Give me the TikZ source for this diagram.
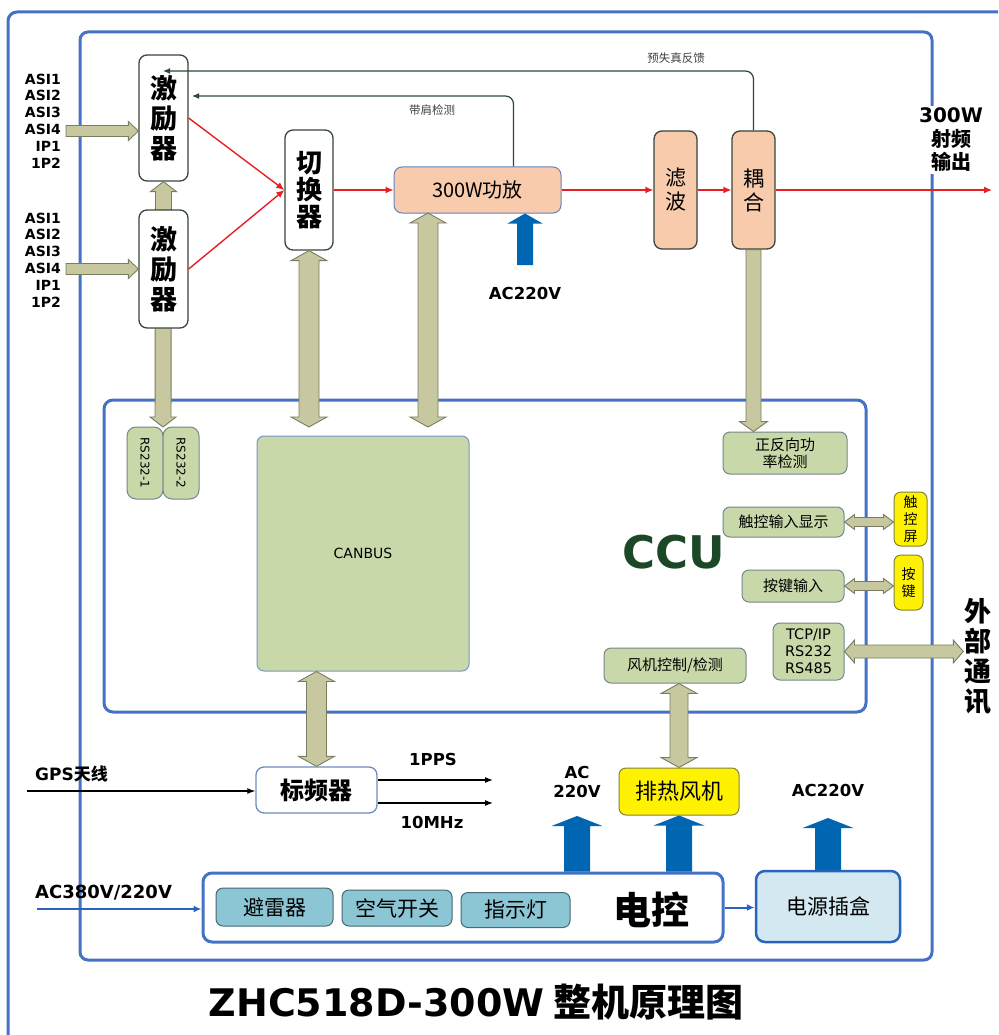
\documentclass[tikz,border=0pt]{standalone}
\usepackage{fontspec}
\setmainfont{Noto Sans CJK SC}
\newfontfamily\vfont{DejaVu Sans}
\usetikzlibrary{calc,arrows.meta}

\definecolor{frameblue}{RGB}{68,114,196}
\definecolor{acblue}{RGB}{0,102,178}
\definecolor{khaki}{RGB}{200,200,160}
\definecolor{khakiline}{RGB}{120,125,95}
\definecolor{boxline}{RGB}{55,70,55}
\definecolor{orangebox}{RGB}{248,203,173}
\definecolor{ampline}{RGB}{100,130,190}
\definecolor{greenbox}{RGB}{200,216,168}
\definecolor{greenline}{RGB}{115,135,140}
\definecolor{canline}{RGB}{120,150,200}
\definecolor{tealfill}{RGB}{140,198,212}
\definecolor{tealline}{RGB}{70,105,115}
\definecolor{plugfill}{RGB}{212,232,241}
\definecolor{plugline}{RGB}{40,100,190}
\definecolor{yellowline}{RGB}{130,130,60}
\definecolor{frqline}{RGB}{110,140,190}
\definecolor{fbgreen}{RGB}{40,75,55}
\definecolor{rfred}{RGB}{232,30,35}
\definecolor{ccugreen}{RGB}{28,72,40}

\newcommand{\fsz}[2]{\fontsize{#1}{#2}\selectfont}

% fat arrows between two points: [style]{from}{to}{half shaft}{half head}
\newcommand{\dblarrow}[5][busarrow]{%
  \path[#1] let \p1=(#2), \p2=(#3),
    \n1={atan2(\y2-\y1,\x2-\x1)}, \n2={veclen(\x2-\x1,\y2-\y1)} in
    [shift={(\p1)}, rotate=\n1]
    (0pt,0pt) -- (10pt,#5pt) -- (10pt,#4pt) -- (\n2-10pt,#4pt) -- (\n2-10pt,#5pt)
    -- (\n2+0pt,0pt) -- (\n2-10pt,-#5pt) -- (\n2-10pt,-#4pt) -- (10pt,-#4pt)
    -- (10pt,-#5pt) -- cycle;}
\newcommand{\onearrow}[5][busarrow]{%
  \path[#1] let \p1=(#2), \p2=(#3),
    \n1={atan2(\y2-\y1,\x2-\x1)}, \n2={veclen(\x2-\x1,\y2-\y1)} in
    [shift={(\p1)}, rotate=\n1]
    (0pt,#4pt) -- (\n2-10pt,#4pt) -- (\n2-10pt,#5pt) -- (\n2+0pt,0pt)
    -- (\n2-10pt,-#5pt) -- (\n2-10pt,-#4pt) -- (0pt,-#4pt) -- cycle;}

\tikzset{
  blueframe/.style={draw=frameblue, line width=3pt, rounded corners=9pt},
  unitbox/.style={draw=boxline, line width=1.3pt, fill=white, rounded corners=8pt, inner sep=0pt, align=center},
  rfbox/.style={unitbox, fill=orangebox},
  ccubox/.style={draw=greenline, line width=1pt, fill=greenbox, rounded corners=7pt, inner sep=0pt, align=center},
  yellowbox/.style={draw=yellowline, line width=1pt, fill=yellow, rounded corners=7pt, inner sep=0pt, align=center},
  tealbox/.style={draw=tealline, line width=1pt, fill=tealfill, rounded corners=7pt, inner sep=0pt, font=\fsz{21}{24}},
  rfline/.style={draw=rfred, line width=1.4pt, -{Latex[length=8pt,width=7pt]}},
  fbline/.style={draw=fbgreen, line width=1.2pt, rounded corners=8pt, -{Latex[length=7pt,width=6pt]}},
  sigline/.style={draw=black, line width=1.2pt, -{Latex[length=8pt,width=6pt]}},
  acline/.style={draw=plugline, line width=2pt, -{Latex[length=8pt,width=7pt]}},
  busarrow/.style={fill=khaki, draw=khakiline, line width=0.9pt},
  acarrow/.style={fill=acblue},
  boldlbl/.style={font=\vfont\bfseries\fsz{16.5}{19}, inner sep=0pt, align=center},
  smalllbl/.style={font=\fsz{11.5}{13}, text=darkgray, inner sep=1pt},
}

\begin{document}
\begin{tikzpicture}[x=1pt,y=-1pt]
  \useasboundingbox (0,0) rectangle (998,1035);
  \clip (0,0) rectangle (998,1035);
  % Frames
  \draw[blueframe] (8,1050) -- (8,12) -- (1010,12);
  \draw[blueframe, rounded corners=8pt] (80,32) rectangle (932,960);
  \node[blueframe, fill=white, minimum width=762pt, minimum height=312pt, inner sep=0pt] (ccu) at (485,556) {};

  % Exciters and switch
  \node[anchor=east, font=\vfont\bfseries\fsz{14}{16.8}, align=right, inner sep=0pt] (asia) at (61,121) {ASI1\\ASI2\\ASI3\\ASI4\\IP1\\1P2};
  \node[anchor=east, font=\vfont\bfseries\fsz{14}{16.8}, align=right, inner sep=0pt] (asib) at (61,260) {ASI1\\ASI2\\ASI3\\ASI4\\IP1\\1P2};
  \node[unitbox, minimum width=49pt, minimum height=126pt, font=\bfseries\fsz{27}{30}] (exc1) at (163.5,118) {激\\励\\器};
  \node[ccubox, rotate=-90, minimum width=72pt, minimum height=36pt, rounded corners=9pt, font=\vfont\fsz{12}{14}] (rs1) at (145,463) {RS232-1};
  \node[ccubox, rotate=-90, minimum width=72pt, minimum height=36pt, rounded corners=9pt, font=\vfont\fsz{12}{14}] (rs2) at (181,463) {RS232-2};
  \coordinate (rsjoin) at (163,427);
  \dblarrow{rsjoin}{exc1.south}{8}{13}
  \node[unitbox, minimum width=49pt, minimum height=118pt, font=\bfseries\fsz{27}{30}] (exc2) at (163.5,269) {激\\励\\器};
  \coordinate (ina) at (66,131);
  \coordinate (inb) at (66,269);
  \onearrow{ina}{ina -| exc1.west}{5.5}{9.5}
  \onearrow{inb}{inb -| exc2.west}{5.5}{9.5}
  \node[unitbox, minimum width=48pt, minimum height=120pt, font=\bfseries\fsz{26}{27}] (sw) at (309,190) {切\\换\\器};

  % RF chain
  \node[rfbox, draw=ampline, line width=1pt, minimum width=167pt, minimum height=46pt, font=\fsz{20}{24}] (amp) at (477.5,190) {300W功放};
  \node[rfbox, minimum width=43pt, minimum height=118pt, font=\fsz{21}{24}] (flt) at (675.5,190) {滤\\波};
  \node[rfbox, minimum width=43pt, minimum height=118pt, font=\fsz{21}{24}] (cpl) at (753.5,190) {耦\\合};
  \node[fill=white, inner sep=2pt, align=center, font=\bfseries\fsz{20}{23.5}] (rfout) at (951,140) {{\vfont 300W}\\射频\\输出};
  \coordinate (rfend) at (992,190);
  \draw[rfline] (exc1.east) -- (sw.west);
  \draw[rfline] (exc2.east) -- (sw.west);
  \draw[rfline] (sw.east) -- (amp.west);
  \draw[rfline] (amp.east) -- (flt.west);
  \draw[rfline] (flt.east) -- (cpl.west);
  \draw[rfline] (cpl.east) -- (rfend);

  % Feedback
  \coordinate (pdtip) at (163,71);
  \coordinate (shtip) at (192,96);
  \draw[fbline] (cpl.north) |- (pdtip);
  \draw[fbline] ($(amp.north)+(36,0)$) |- (shtip);
  \node[smalllbl] (pdl) at (676,58) {预失真反馈};
  \node[smalllbl] (shl) at (432,110) {带肩检测};

  % Mains into amplifier
  \coordinate (acamp) at (525,265);
  \onearrow[acarrow]{acamp}{acamp |- amp.south}{8}{17.5}
  \node[boldlbl] (acampl) at (525,293) {AC220V};

  % CCU board
  \node[ccubox, draw=canline, minimum width=212pt, minimum height=235pt, font=\vfont\fsz{14}{16}] (can) at (363,553.5) {CANBUS};
  \coordinate (bustop) at (0,427);
  \coordinate (ampbus) at (428,213);
  \dblarrow{sw.south}{sw.south |- bustop}{10}{18}
  \dblarrow{ampbus}{ampbus |- bustop}{10}{18}
  \node[ccubox, minimum width=124pt, minimum height=42pt, font=\fsz{15}{17}] (pwr) at (785,453) {正反向功\\率检测};
  \onearrow{cpl.south}{cpl.south |- pwr.north}{7.5}{14}
  \node[ccubox, minimum width=121pt, minimum height=30pt, font=\fsz{15}{17}] (tin) at (783.5,522) {触控输入显示};
  \node[yellowbox, minimum width=33pt, minimum height=54pt, font=\fsz{14}{17}] (tscr) at (910.5,519) {触\\控\\屏};
  \dblarrow{tin.east}{tin.east -| tscr.west}{4.5}{7.5}
  \node[ccubox, minimum width=102pt, minimum height=32pt, font=\fsz{15}{17}] (kin) at (793,586) {按键输入};
  \node[yellowbox, minimum width=29pt, minimum height=55pt, font=\fsz{14}{17}] (key) at (908.5,582.5) {按\\键};
  \dblarrow{kin.east}{kin.east -| key.west}{4.5}{7.5}
  \node[ccubox, minimum width=71pt, minimum height=57pt, font=\vfont\fsz{14.5}{17}] (tcp) at (808.5,651.5) {TCP/IP\\RS232\\RS485};
  \node[font=\bfseries\fsz{27}{30}, inner sep=1pt, align=center] (comm) at (978,656) {外\\部\\通\\讯};
  \dblarrow{tcp.east}{tcp.east -| comm.west}{6.5}{11.5}
  \node[ccubox, minimum width=142pt, minimum height=35pt, font=\fsz{15}{17}] (fanctl) at (675,665.5) {风机控制/检测};
  \node[font=\vfont\bfseries\fsz{45}{45}, text=ccugreen] (ccul) at (674,552) {CCU};

  % Frequency standard
  \node[unitbox, draw=frqline, minimum width=121pt, minimum height=46pt, font=\bfseries\fsz{24}{26}] (frq) at (316.5,790) {标频器};
  \dblarrow{frq.north |- can.south}{frq.north}{10}{18}
  \coordinate (gpsin) at (27,791);
  \draw[sigline] (gpsin) -- (gpsin -| frq.west);
  \node[anchor=west, font=\bfseries\fsz{17}{19}, inner sep=0pt] (gpsl) at (35,774) {{\vfont GPS}天线};
  \coordinate (ppsend) at (493,780);
  \coordinate (mhzend) at (493,803);
  \draw[sigline] (frq.east |- ppsend) -- (ppsend);
  \draw[sigline] (frq.east |- mhzend) -- (mhzend);
  \node[boldlbl] (ppsl) at (433,759) {1PPS};
  \node[boldlbl] (mhzl) at (432,822) {10MHz};

  % Power control
  \node[blueframe, fill=white, minimum width=520pt, minimum height=69pt, inner sep=0pt] (el) at (463,907.5) {};
  \node[tealbox, minimum width=117pt, minimum height=38pt] (spd) at (274.5,907) {避雷器};
  \node[tealbox, minimum width=110pt, minimum height=36pt] (brk) at (397,908) {空气开关};
  \node[tealbox, minimum width=109pt, minimum height=35pt] (lamp) at (515.5,910) {指示灯};
  \node[font=\bfseries\fsz{38}{40}] (ell) at (651,910) {电控};
  \node[draw=plugline, line width=2.5pt, fill=plugfill, rounded corners=9pt, minimum width=144pt, minimum height=71pt, font=\fsz{21}{24}] (plug) at (828,906.5) {电源插盒};
  \draw[acline] (el.east) -- (el.east -| plug.west);
  \coordinate (acin) at (37,909);
  \draw[acline] (acin) -- (acin -| el.west);
  \node[boldlbl, anchor=west, font=\vfont\bfseries\fsz{18}{20}] (acinl) at (35,893) {AC380V/220V};

  % Fan and mains outputs
  \node[yellowbox, minimum width=120pt, minimum height=47pt, font=\fsz{22}{24}] (fan) at (679,791.5) {排热风机};
  \dblarrow{fan.north |- fanctl.south}{fan.north}{9}{18}
  \coordinate (ac1) at (577,816);
  \coordinate (ac2) at (828,818);
  \onearrow[acarrow]{ac1 |- el.north}{ac1}{13}{25.5}
  \onearrow[acarrow]{fan.south |- el.north}{fan.south}{13}{25.5}
  \onearrow[acarrow]{plug.north}{ac2}{13}{25.5}
  \node[boldlbl] (ac1l) at (577,782) {AC\\220V};
  \node[boldlbl] (ac2l) at (828,790) {AC220V};

  % Title
  \node[font=\bfseries\fsz{38}{42}] (title) at (476,1002) {{\vfont ZHC518D-300W} 整机原理图};
\end{tikzpicture}
\end{document}
